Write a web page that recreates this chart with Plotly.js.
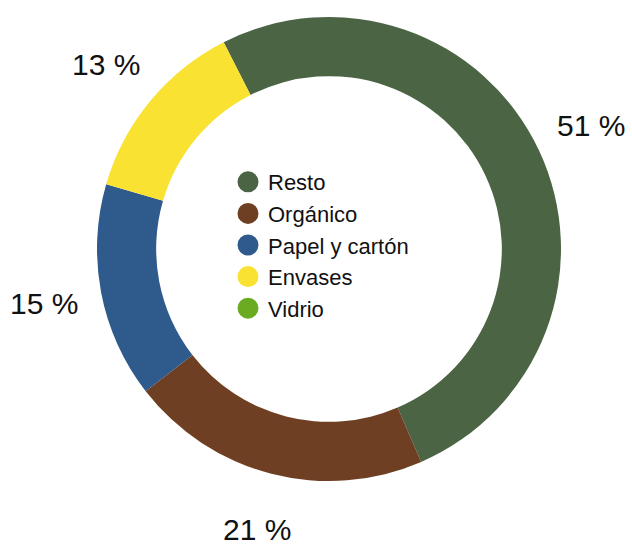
<!DOCTYPE html>
<html>
<head>
<meta charset="utf-8">
<script src="https://cdn.plot.ly/plotly-3.0.1.min.js"></script>
<style>html,body{margin:0;padding:0;background:#fff;}#chart{width:632px;height:545px;}</style>
</head>
<body>
<div id="chart"></div>
<script>
// ---- data ----
const categories = ['Resto', 'Orgánico', 'Papel y cartón', 'Envases', 'Vidrio'];
const values = [51, 21, 15, 13, 0];
const colors = ['#4b6443', '#6e3f22', '#2e5a8c', '#f9e232', '#6aab22'];

// ---- layout geometry ----
const W = 632, H = 545;
const CX = 329, CY = 249, R = 232;   // pixel centre (from top-left) and outer radius
const ROT = -27;                      // start angle of first slice (clockwise from 12 o'clock)
const LABEL_R = 1.25;                 // label distance, in outer radii

const domX = [(CX - R) / W, (CX + R) / W];
const domY = [(H - CY - R) / H, (H - CY + R) / H];

const pie = {
  type: 'pie',
  labels: categories,
  values: values,
  sort: false,
  direction: 'clockwise',
  rotation: ROT,
  hole: 0.745,
  textinfo: 'none',
  hoverinfo: 'label+percent',
  showlegend: false,
  marker: {colors: colors, line: {width: 0}},
  domain: {x: domX, y: domY}
};

// legend entries (round markers)
const legendTraces = categories.map((c, i) => ({
  type: 'scatter', mode: 'markers', x: [null], y: [null], name: c,
  marker: {size: 16, color: colors[i], line: {color: colors[i], width: 5}},
  hoverinfo: 'skip'
}));

// percentage labels placed outside each slice, from the values
const total = values.reduce((a, b) => a + b, 0);
let cum = 0;
const annotations = [];
values.forEach((v, i) => {
  const mid = (cum + v / 2) / total;
  cum += v;
  if (v <= 0) return;
  const a = (ROT + 360 * mid) * Math.PI / 180;
  const px = CX + LABEL_R * R * Math.sin(a);
  const py = CY - LABEL_R * R * Math.cos(a);
  annotations.push({
    xref: 'paper', yref: 'paper', x: px / W, y: 1 - py / H,
    xanchor: 'center', yanchor: 'middle', showarrow: false,
    text: Math.round(100 * v / total) + ' %',
    font: {family: 'Liberation Sans, Arial, sans-serif', size: 30, color: '#111'}
  });
});

const layout = {
  width: W, height: H,
  margin: {l: 0, r: 0, t: 0, b: 0},
  paper_bgcolor: '#fff', plot_bgcolor: '#fff',
  xaxis: {visible: false, domain: [0.4, 0.6]},
  yaxis: {visible: false, domain: [0.4, 0.6]},
  showlegend: true,
  legend: {
    x: 228 / W, xanchor: 'left', y: 1 - 245 / H, yanchor: 'middle',
    bgcolor: 'rgba(0,0,0,0)',
    font: {family: 'Liberation Sans, Arial, sans-serif', size: 22, color: '#111'}
  },
  annotations: annotations
};

Plotly.newPlot('chart', [pie].concat(legendTraces), layout, {displayModeBar: false, staticPlot: true});
</script>
</body>
</html>
